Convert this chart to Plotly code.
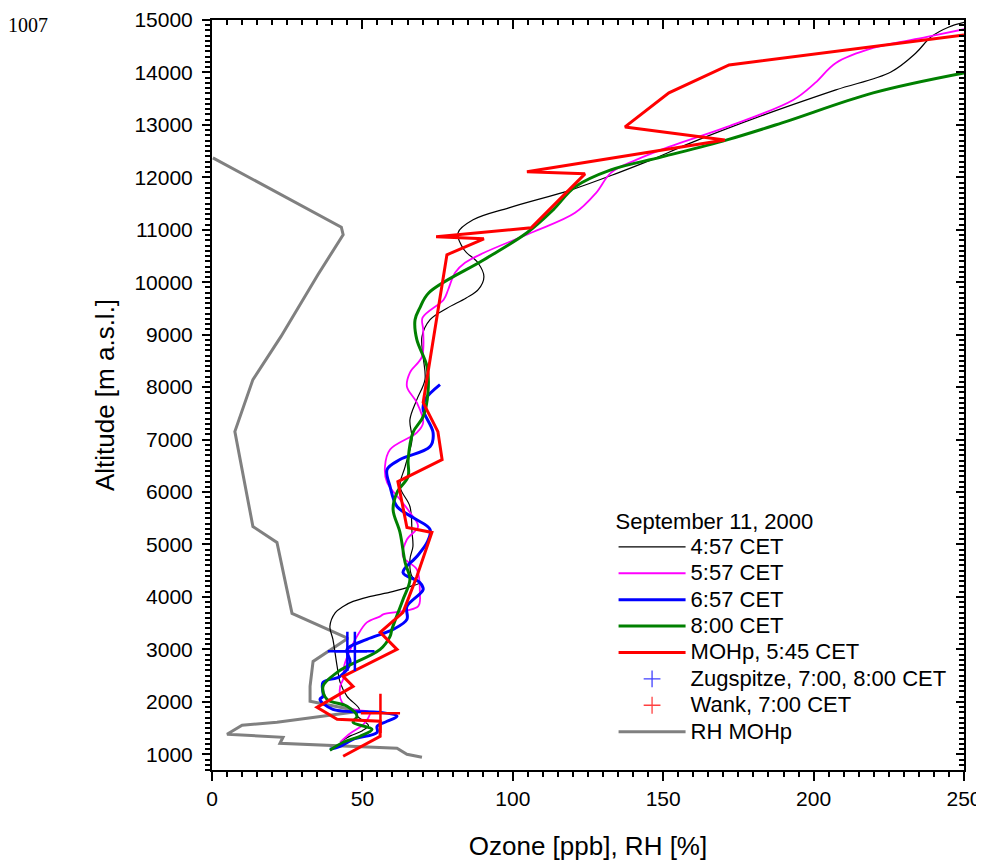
import plotly.graph_objects as go

# ---------------- data ----------------
black_alt = [1250, 1350, 1450, 1550, 1650, 1750, 1857, 2105, 2371, 2676, 3190, 3438, 3700, 3819, 3914, 4000, 4100, 4200, 4276, 4390, 4714, 4962, 5229, 5724, 6105, 6486, 7000, 7381, 7762, 8143, 8581, 8962, 9286, 9500, 9700, 9857, 10105, 10371, 10619, 10943, 11190, 11419, 11762, 12086, 12333, 12657, 13190, 13667, 14010, 14371, 14676, 14867, 14960]
black_o3 = [43, 46, 50, 52, 50, 48, 49, 44.9, 42.6, 41.6, 40.2, 39.2, 41, 43.6, 46.9, 52, 60, 66, 69.1, 66.5, 65.8, 66.8, 66.5, 65.8, 62.5, 64.2, 66.5, 65.8, 68.1, 70.8, 70.2, 69.8, 72.5, 78, 84.5, 88.5, 90.4, 88.4, 83.8, 81.8, 86.8, 98.7, 119.4, 135.0, 146.0, 159.2, 183.5, 207.4, 225.7, 234.0, 239.0, 245.0, 250.5]

mag_alt = [1229, 1400, 1550, 1700, 1800, 1857, 1990, 2295, 2429, 2700, 3000, 3248, 3514, 3629, 3667, 3819, 4086, 4524, 4771, 5095, 5343, 5610, 5857, 6181, 6486, 6810, 7133, 7324, 7705, 8010, 8276, 8581, 9095, 9324, 9667, 9857, 10181, 10371, 10562, 10943, 11324, 11705, 12086, 12333, 12581, 12962, 13476, 13800, 14181, 14467, 14676, 14829]
mag_o3 = [42.6, 46, 50, 52, 52.5, 46.9, 43.2, 42.6, 43.6, 44, 46, 48.2, 51.5, 55.9, 56.9, 68.5, 69.1, 68.1, 63.5, 64.8, 68.5, 65.8, 62.5, 58.2, 57.5, 59.2, 68.1, 70.2, 68.1, 64.8, 65.8, 69.8, 70.2, 70, 77, 78.5, 80.8, 84.1, 90.4, 106.1, 120.7, 127.7, 132.6, 141.0, 151.9, 171.2, 193.2, 200.5, 207.4, 219.8, 237.7, 250.5]

blue_alt = [1095, 1152, 1286, 1419, 1533, 1629, 1724, 1800, 1857, 2048, 2105, 2371, 2486, 2752, 3000, 3190, 3381, 3571, 3819, 4143, 4276, 4467, 4771, 5038, 5286, 5514, 5724, 6105, 6429, 6619, 6867, 7133, 7571, 7762, 8048]
blue_o3 = [39.2, 42.6, 46.9, 54.9, 54.9, 58.2, 61.5, 55.9, 40.2, 35.9, 36.9, 36.9, 42.6, 45.9, 44.9, 51.5, 60.2, 64.8, 64.8, 70.2, 69.1, 63.5, 68.1, 71.5, 72.5, 66.8, 61.5, 59.2, 58.2, 62.5, 72.5, 73.5, 70.2, 70.8, 75.8]

green_alt = [1076, 1229, 1343, 1476, 1610, 1724, 1914, 2048, 2295, 2562, 2676, 3000, 3248, 3381, 3952, 4333, 4657, 5229, 5667, 5990, 6295, 6619, 7133, 7438, 7895, 8390, 8905, 9286, 9500, 9800, 10429, 10943, 11381, 11819, 12143, 12390, 12714, 13038, 13610, 13990]
green_o3 = [39.2, 43.6, 49.2, 53.2, 46.9, 48.2, 44.9, 38.2, 36.9, 41.6, 44.9, 55.9, 59.2, 59.8, 63.5, 65.8, 64.2, 62.5, 60.2, 61.5, 65.2, 65.2, 66.8, 70.2, 71.8, 71.5, 68.1, 67.5, 69, 72.1, 90.4, 104.7, 113.4, 120.7, 132.6, 149.6, 171.2, 189.5, 219.8, 250]

red_alt = [962, 1133, 1343, 1629, 1667, 1895, 2295, 2486, 3000, 3324, 3705, 4390, 5229, 5324, 6200, 6619, 7152, 7705, 9667, 10524, 10829, 10867, 11038, 12067, 12105, 12714, 12962, 13610, 14143, 14714]
red_o3 = [43.6, 49.2, 55.9, 55.9, 41.6, 34.9, 46.9, 43.6, 61.5, 55.9, 63.5, 68.1, 73.1, 64.8, 61.8, 76.5, 75.1, 70.2, 75.8, 78.1, 90.4, 74.5, 106.1, 124.0, 104.7, 170.5, 137.3, 151.9, 171.9, 250]

zug_alt = [2962, 2962]
zug_o3 = [45.0, 47.5]
wank_alt = [1780]
wank_o3 = [56]

rh_alt = [943, 1000, 1114, 1210, 1324, 1381, 1552, 1610, 1819, 2010, 2295, 2771, 3210, 3686, 4143, 5038, 5343, 7152, 8143, 8962, 10143, 10905, 11050, 12371]
rh_val = [69.8, 64.8, 61.5, 22.6, 23.6, 5.0, 10.0, 21.6, 49.2, 32.6, 32.6, 33.6, 45.2, 26.6, 24.9, 21.6, 13.6, 7.6, 13.6, 22.9, 35.2, 43.6, 43.0, 0.3]

x_ticks = [0, 50, 100, 150, 200, 250]
y_ticks = list(range(1000, 15001, 1000))

# ---------------- figure ----------------
FONT = "Liberation Sans, Arial, sans-serif"


def lg(name):
    return '<span style="font-size:22px">' + name + '</span>'


fig = go.Figure()

fig.add_trace(go.Scatter(x=rh_val, y=rh_alt, mode="lines", name=lg("RH MOHp"),
                         line=dict(color="#808080", width=3), legendrank=8))
fig.add_trace(go.Scatter(x=black_o3, y=black_alt, mode="lines", name=lg("4:57 CET"),
                         line=dict(color="black", width=1.2, shape="spline"), legendrank=1))
fig.add_trace(go.Scatter(x=mag_o3, y=mag_alt, mode="lines", name=lg("5:57 CET"),
                         line=dict(color="#FF00FF", width=1.8, shape="spline"), legendrank=2))
fig.add_trace(go.Scatter(x=blue_o3, y=blue_alt, mode="lines", name=lg("6:57 CET"),
                         line=dict(color="#0000FF", width=3, shape="spline"), legendrank=3))
fig.add_trace(go.Scatter(x=green_o3, y=green_alt, mode="lines", name=lg("8:00 CET"),
                         line=dict(color="#008000", width=3, shape="spline"), legendrank=4))
fig.add_trace(go.Scatter(x=red_o3, y=red_alt, mode="lines", name=lg("MOHp, 5:45 CET"),
                         line=dict(color="#FF0000", width=3), legendrank=5))
# station markers (large in plot)
fig.add_trace(go.Scatter(x=zug_o3, y=zug_alt, mode="markers", showlegend=False,
                         marker=dict(symbol="cross-thin", size=28,
                                     line=dict(color="#0000FF", width=2.5))))
fig.add_trace(go.Scatter(x=wank_o3, y=wank_alt, mode="markers", showlegend=False,
                         marker=dict(symbol="cross-thin", size=28,
                                     line=dict(color="#FF0000", width=2.5))))
# legend entries for the station markers (small symbols)
fig.add_trace(go.Scatter(x=[None], y=[None], mode="markers", name=lg("Zugspitze, 7:00, 8:00 CET"),
                         marker=dict(symbol="cross-thin", size=12,
                                     line=dict(color="#4040FF", width=1.3)), legendrank=6))
fig.add_trace(go.Scatter(x=[None], y=[None], mode="markers", name=lg("Wank, 7:00 CET"),
                         marker=dict(symbol="cross-thin", size=12,
                                     line=dict(color="#FF4040", width=1.3)), legendrank=7))
# helper trace for the mirrored (top/right) axes
fig.add_trace(go.Scatter(x=[None], y=[None], xaxis="x2", yaxis="y2", showlegend=False,
                         hoverinfo="skip"))

axis_common = dict(showgrid=False, zeroline=False, showline=True, linecolor="black",
                   linewidth=2, tickcolor="black", tickwidth=1.5, automargin=False)

fig.update_layout(
    width=976, height=860,
    margin=dict(l=204, r=20, t=12, b=98, autoexpand=False),
    paper_bgcolor="white", plot_bgcolor="white",
    font=dict(family=FONT, color="black"),
    showlegend=True,
    legend=dict(
        x=0.534, y=0.353, xanchor="left", yanchor="top",
        bgcolor="rgba(0,0,0,0)", borderwidth=0,
        font=dict(family=FONT, size=18, color="black"),
        title=dict(text='<span style="font-size:22px">September 11, 2000</span>',
                   font=dict(family=FONT, size=18)),
        tracegroupgap=0, itemwidth=67,
    ),
    xaxis=dict(range=[0, 250], tickvals=x_ticks, ticktext=[str(v) for v in x_ticks],
               ticks="outside", ticklen=9,
               minor=dict(dtick=5, ticks="outside", ticklen=5, tickcolor="black", tickwidth=1.5),
               tickfont=dict(size=21, family=FONT),
               title=dict(text="Ozone [ppb], RH [%]", font=dict(size=26, family=FONT), standoff=28),
               **axis_common),
    yaxis=dict(range=[700, 15000], tickvals=y_ticks, ticktext=[str(v) for v in y_ticks],
               ticks="outside", ticklen=8, ticklabelstandoff=5,
               minor=dict(dtick=100, ticks="outside", ticklen=5, tickcolor="black", tickwidth=1.5),
               tickfont=dict(size=21, family=FONT),
               title=dict(text="Altitude [m a.s.l.]", font=dict(size=26, family=FONT), standoff=12),
               **axis_common),
    xaxis2=dict(range=[0, 250], overlaying="x", side="top", tickvals=x_ticks,
                showticklabels=False, ticks="inside", ticklen=9,
                minor=dict(dtick=5, ticks="inside", ticklen=5, tickcolor="black", tickwidth=1.5),
                **axis_common),
    yaxis2=dict(range=[700, 15000], overlaying="y", side="right", tickvals=y_ticks,
                showticklabels=False, ticks="inside", ticklen=8,
                minor=dict(dtick=100, ticks="inside", ticklen=5, tickcolor="black", tickwidth=1.5),
                **axis_common),
    annotations=[dict(text="1007", xref="paper", yref="paper", x=-0.2739, y=1.011,
                      xanchor="left", yanchor="top", showarrow=False,
                      font=dict(family="Liberation Serif, Times New Roman, serif", size=20))],
)

fig.write_html("out.html")
